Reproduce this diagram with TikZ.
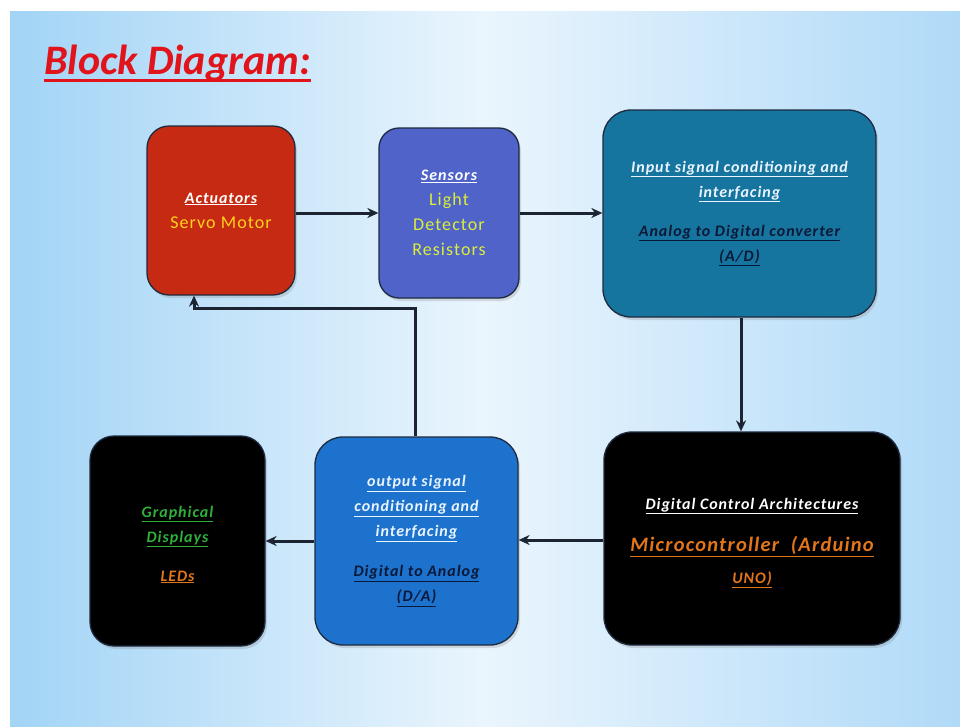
\documentclass[tikz,border=0pt]{standalone}
\usepackage{fontspec}
\setmainfont{Carlito}
\newfontfamily\spfam[LetterSpace=6]{Carlito}
\usetikzlibrary{arrows.meta,shadows}
\definecolor{bgL}{HTML}{A2D4F6}
\definecolor{bgM}{HTML}{EAF5FD}
\definecolor{bgR}{HTML}{B0DAF8}
\definecolor{redbox}{HTML}{C62A12}
\definecolor{sensbox}{HTML}{4F63C8}
\definecolor{inbox}{HTML}{16759E}
\definecolor{outbox}{HTML}{1C72CC}
\definecolor{edge}{HTML}{1E2A40}
\definecolor{arrc}{HTML}{1B2430}
\definecolor{titlered}{HTML}{E0141A}
\definecolor{yel}{HTML}{FFD21E}
\definecolor{lime}{HTML}{DDEE3A}
\definecolor{navy}{HTML}{0B1838}
\definecolor{orng}{HTML}{E3761A}
\definecolor{grn}{HTML}{2EB03A}
\definecolor{pale}{HTML}{EAF4FF}
\newcommand{\ul}[1]{\underline{#1}}
\newcommand{\labf}{\spfam\fontsize{16}{25}\selectfont\bfseries\itshape}
\newcommand{\regf}{\spfam\fontsize{18}{25}\selectfont}
\tikzset{
  blk/.style={draw=edge, line width=1.3pt, rounded corners=22pt, align=center, inner sep=4pt,
    drop shadow={opacity=0.25, shadow xshift=2pt, shadow yshift=-3pt}},
  arr/.style={draw=arrc, line width=3pt, -{Stealth[length=11pt,width=10pt]}},
  labtext/.style={font=\labf},
  regtext/.style={font=\regf},
  inner/.style={align=center, inner sep=0pt, font=\labf},
}
\begin{document}
\begin{tikzpicture}[x=1pt,y=-1pt]
\useasboundingbox (0,0) rectangle (960,726);
\fill[white] (0,0) rectangle (960,726);
\shade[left color=bgL, right color=bgR, middle color=bgM] (10,11) rectangle (960,726);
\node[anchor=base west, inner sep=0pt, text=titlered, font=\fontsize{42}{46}\selectfont\bfseries\itshape] (title) at (44,74) {Block Diagram:};
\draw[titlered, line width=3pt] ([yshift=-6pt]title.base west) -- ([yshift=-6pt]title.base east);

\node[blk, regtext, fill=redbox, minimum width=148pt, minimum height=169pt] (act) at (221,210.5)
  {{\labf\color{white}\ul{Actuators}}\\
   {\color{yel}Servo Motor}};
\node[blk, regtext, fill=sensbox, minimum width=140pt, minimum height=170pt, rounded corners=20pt] (sen) at (449,213)
  {{\labf\color{white}\ul{Sensors}}\\
   {\color{lime}Light}\\ {\color{lime}Detector}\\ {\color{lime}Resistors}};
\node[blk, labtext, fill=inbox, minimum width=273pt, minimum height=207pt, rounded corners=28pt] (inp) at (739.5,213.5)
  {{\color{pale}\ul{Input signal conditioning and}}\\
   {\color{pale}\ul{interfacing}}\\[14pt]
   {\color{navy}\ul{Analog to Digital converter}}\\
   {\color{navy}\ul{(A/D)}}};
\node[blk, fill=black, minimum width=296pt, minimum height=213pt, rounded corners=28pt] (mcu) at (752,538.5) {};
\node[inner] (mcutext) at (752,543)
  {{\color{white}\ul{Digital Control Architectures}}\\[17pt]
   {\fontsize{20.5}{25}\selectfont\color{orng}\ul{Microcontroller~ (Arduino}}\\[7pt]
   {\color{orng}\ul{UNO)}}};
\node[blk, labtext, fill=outbox, minimum width=203pt, minimum height=208pt, rounded corners=28pt] (out) at (416.5,541)
  {{\color{pale}\ul{output signal}}\\
   {\color{pale}\ul{conditioning and}}\\
   {\color{pale}\ul{interfacing}}\\[15pt]
   {\color{navy}\ul{Digital to Analog}}\\
   {\color{navy}\ul{(D/A)}}};
\node[blk, fill=black, minimum width=175pt, minimum height=210pt, rounded corners=24pt] (gfx) at (177.5,541) {};
\node[inner] (gfxtext) at (177.5,544.5)
  {{\color{grn}\ul{Graphical}}\\
   {\color{grn}\ul{Displays}}\\[14pt]
   {\color{orng}\ul{LEDs}}};

\draw[arr] (act.east |- 0,213) -- (sen.west |- 0,213);
\draw[arr] (sen.east |- 0,213) -- (inp.west |- 0,213);
\draw[arr] (inp.south -| 741,0) -- (mcu.north -| 741,0);
\draw[arr] (mcu.west |- 0,540) -- (out.east |- 0,540);
\draw[arr] (out.west |- 0,541) -- (gfx.east |- 0,541);
\coordinate (e1) at (415,308);
\coordinate (e2) at (194,308);
\draw[arr] (out.north -| e1) -- (e1) -- (e2) -- (act.south -| e2);
\end{tikzpicture}
\end{document}
